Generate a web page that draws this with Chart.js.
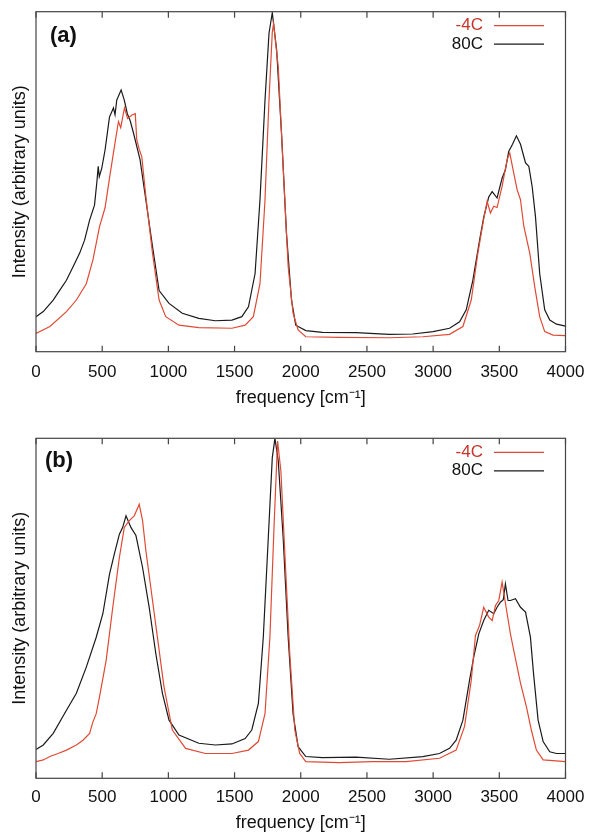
<!DOCTYPE html>
<html>
<head>
<meta charset="utf-8">
<script src="https://cdn.jsdelivr.net/npm/chart.js@4.4.1/dist/chart.umd.min.js"></script>
<style>
  html, body { margin: 0; padding: 0; background: #fff; }
  .panel { position: absolute; left: 0; width: 590px; height: 417px; }
  #pa { top: 0; }
  #pb { top: 417px; }
</style>
</head>
<body>
<div class="panel" id="pa"><canvas id="ca"></canvas></div>
<div class="panel" id="pb"><canvas id="cb"></canvas></div>
<script>
// ---------- data ----------
const seriesLabels = ['-4C', '80C'];
const xTicks = [0, 500, 1000, 1500, 2000, 2500, 3000, 3500, 4000];
const xTickLabels = ['0', '500', '1000', '1500', '2000', '2500', '3000', '3500', '4000'];

// Panel (a)
const a_cold_x = [0,105,230,305,380,430,480,522,555,585,623,640,668,692,725,750,761,780,799,830,880,930,980,1080,1230,1480,1580,1642,1692,1730,1760,1785,1795,1830,1867,1905,1942,1980,2038,2290,2669,2922,3124,3225,3288,3338,3382,3408,3433,3458,3483,3521,3559,3579,3609,3635,3660,3685,3730,3768,3805,3843,3906,4000];
const a_cold_y = [5.4,7.4,11.8,15.2,20,27,36.8,42.4,51,58.5,67.7,65.9,71.7,68.6,69.6,70,62.4,59.5,57.4,45.6,29,15.2,10.3,7.8,7.1,6.9,7.8,10.3,20,44.6,74,94,96.5,83.8,54.4,25,11.3,6.4,4.4,4.2,4.1,4.4,5.1,7.4,15.2,29,39,44.2,40.8,42.8,42.4,48.6,56.5,58.4,52.5,47.6,44.7,36.9,29,19,10.3,5.9,4.9,4.7];
const a_hot_x = [0,55,130,180,230,280,330,367,405,442,460,470,478,497,522,555,585,597,610,643,667,690,711,736,786,837,880,930,1005,1105,1230,1355,1480,1555,1605,1655,1692,1730,1760,1785,1818,1855,1892,1930,1962,2038,2164,2417,2669,2846,3000,3124,3200,3250,3300,3351,3382,3420,3446,3483,3521,3546,3571,3600,3629,3660,3698,3723,3748,3773,3805,3843,3881,3932,4000];
const a_hot_y = [10.3,11.8,15.2,18.1,21,25,29,32.8,38.7,43.1,50,54.5,51.5,54,59.4,69,71.7,69.7,74,77,74,70,68,64.4,56.5,42.7,31,18,14.2,11.3,9.8,9.1,9.3,10.3,13.2,23,44.6,74,93.6,99.7,88.7,64,34.8,15.2,7.8,6.2,5.7,5.6,5.1,5.2,5.9,6.9,8.8,12.3,21,32.8,39.5,45.5,47.1,45.2,51,53.5,58.9,61,63.5,61,55.5,54.5,48.6,39.8,23,12.3,9.3,8.1,7.5];

// Panel (b)
const b_cold_x = [0,55,105,167,230,305,355,405,430,455,480,530,580,630,667,705,742,780,805,830,867,917,967,1030,1130,1280,1480,1605,1680,1730,1767,1800,1825,1850,1880,1917,1955,1992,2038,2290,2543,2795,3048,3174,3237,3288,3320,3351,3382,3420,3446,3471,3496,3521,3559,3584,3609,3635,3660,3705,3742,3780,3831,4000];
const b_cold_y = [4.9,5.4,6.4,7.3,8.3,9.8,11.2,13.2,16.6,19,24,34.7,50.3,65,73.8,75.8,77.2,80.6,75.8,67,56.2,41.5,26.9,14.2,8.8,7.3,7.3,8.3,10.8,19,41.5,75.8,99.2,90.4,66,36.7,14.2,7.3,4.9,4.6,4.9,4.9,5.9,8.3,15.2,28.8,42,45,50.3,47.4,46.4,50.8,52.3,57.7,48.4,42.5,37.6,32.7,28,21,14.2,8.3,5.4,4.9];
const b_hot_x = [0,55,130,230,305,380,455,505,555,592,630,655,680,717,755,805,855,905,955,1005,1080,1230,1355,1480,1580,1630,1680,1717,1755,1785,1805,1830,1867,1905,1942,1980,2038,2164,2417,2669,2922,3048,3124,3174,3225,3275,3307,3345,3382,3420,3458,3483,3508,3530,3546,3566,3584,3622,3660,3698,3735,3758,3793,3831,3881,3932,4000];
const b_hot_y = [8.5,9.8,13.2,20,25,32.7,41.5,48.4,60,66,71.8,73.8,77.2,73.8,71.4,62,50.3,36.7,25,17.1,12.7,10.3,9.8,10.1,11.7,14.2,22,41.5,70.9,94.3,100,93.4,70.9,41.5,19,9.3,6.4,6.1,6.2,5.6,6.4,7.3,8.8,11.2,17.1,28.8,35.7,42.5,46.4,49.4,48.4,50.3,51.8,52.5,57.2,52.3,52.3,52.8,50.3,48.9,41.5,31,17.1,10.8,7.8,7.3,7.3];

// ---------- styling ----------
const FONT = "'Liberation Sans', Arial, Helvetica, sans-serif";
const RED = '#e04a35';
const RED_TEXT = '#c8352a';
const BLACK = '#1a1a1a';

function pts(xs, ys) { return xs.map((x, i) => ({ x: x, y: ys[i] })); }

const framePlugin = {
  id: 'frame',
  afterDatasetsDraw(chart) {
    const { ctx, chartArea: ca, scales } = chart;
    ctx.save();
    ctx.strokeStyle = '#444';
    ctx.lineWidth = 1.2;
    ctx.strokeRect(ca.left, ca.top, ca.right - ca.left, ca.bottom - ca.top);
    ctx.beginPath();
    scales.x.ticks.forEach(t => {
      const px = scales.x.getPixelForValue(t.value);
      ctx.moveTo(px, ca.bottom); ctx.lineTo(px, ca.bottom - 6);
      ctx.moveTo(px, ca.top); ctx.lineTo(px, ca.top + 6);
    });
    ctx.stroke();
    ctx.restore();
  }
};

const decorPlugin = {
  id: 'decor',
  afterDraw(chart, args, opts) {
    const { ctx, chartArea: ca } = chart;
    ctx.save();
    ctx.font = 'bold 22px ' + FONT;
    ctx.fillStyle = '#111';
    ctx.textAlign = 'left';
    ctx.textBaseline = 'middle';
    ctx.fillText(opts.panel, opts.panelX, ca.top + opts.panelDY);
    ctx.font = '17px ' + FONT;
    ctx.textAlign = 'right';
    const rows = [14, 32.5];
    chart.data.datasets.forEach((ds, i) => {
      const y = ca.top + rows[i];
      ctx.fillStyle = ds.textColor;
      ctx.fillText(ds.label, 483, y);
      ctx.strokeStyle = ds.borderColor;
      ctx.lineWidth = 1.2;
      ctx.beginPath();
      ctx.moveTo(494, y); ctx.lineTo(544, y);
      ctx.stroke();
    });
    ctx.restore();
  }
};

function makeChart(id, coldX, coldY, hotX, hotY, cfg) {
  return new Chart(document.getElementById(id), {
    type: 'line',
    data: {
      datasets: [
        { label: seriesLabels[0], data: pts(coldX, coldY), borderColor: RED, textColor: RED_TEXT, borderWidth: 1.2, pointRadius: 0, tension: 0, fill: false },
        { label: seriesLabels[1], data: pts(hotX, hotY), borderColor: BLACK, textColor: '#111', borderWidth: 1.2, pointRadius: 0, tension: 0, fill: false }
      ]
    },
    options: {
      responsive: true,
      maintainAspectRatio: false,
      animation: false,
      layout: { padding: { top: cfg.top, right: 24.5, bottom: 0, left: 0 } },
      plugins: {
        legend: { display: false },
        tooltip: { enabled: false },
        decor: { panel: cfg.panel, panelX: cfg.panelX, panelDY: cfg.panelDY }
      },
      scales: {
        x: {
          type: 'linear',
          min: 0, max: 4000,
          afterBuildTicks(s) { s.ticks = xTicks.map(v => ({ value: v })); },
          ticks: {
            font: { family: FONT, size: 17 }, color: '#111', padding: cfg.tickPad, maxRotation: 0, autoSkip: false,
            callback(value) { const i = xTicks.indexOf(value); return i >= 0 ? xTickLabels[i] : ''; }
          },
          grid: { display: false, drawTicks: false },
          border: { display: false },
          title: { display: true, text: 'frequency [cm⁻¹]', font: { family: FONT, size: 18 }, color: '#111', padding: { top: 0, bottom: cfg.titlePad } },
          afterFit(s) { s.height = cfg.xHeight; s.paddingLeft = 0; s.paddingRight = 0; }
        },
        y: {
          min: 0, max: 100,
          ticks: { display: false },
          grid: { display: false, drawTicks: false },
          border: { display: false },
          title: { display: true, text: 'Intensity (arbitrary units)', font: { family: FONT, size: 18 }, color: '#111', padding: { top: 9, bottom: 0 } },
          afterFit(s) { s.width = 36; s.paddingTop = 0; s.paddingBottom = 0; }
        }
      }
    },
    plugins: [framePlugin, decorPlugin]
  });
}

makeChart('ca', a_cold_x, a_cold_y, a_hot_x, a_hot_y,
  { top: 11.7, xHeight: 65.3, tickPad: 10, titlePad: 8, panel: '(a)', panelX: 50, panelDY: 24 });
makeChart('cb', b_cold_x, b_cold_y, b_hot_x, b_hot_y,
  { top: 21.3, xHeight: 55.7, tickPad: 9, titlePad: 0, panel: '(b)', panelX: 45, panelDY: 23 });
</script>
</body>
</html>
